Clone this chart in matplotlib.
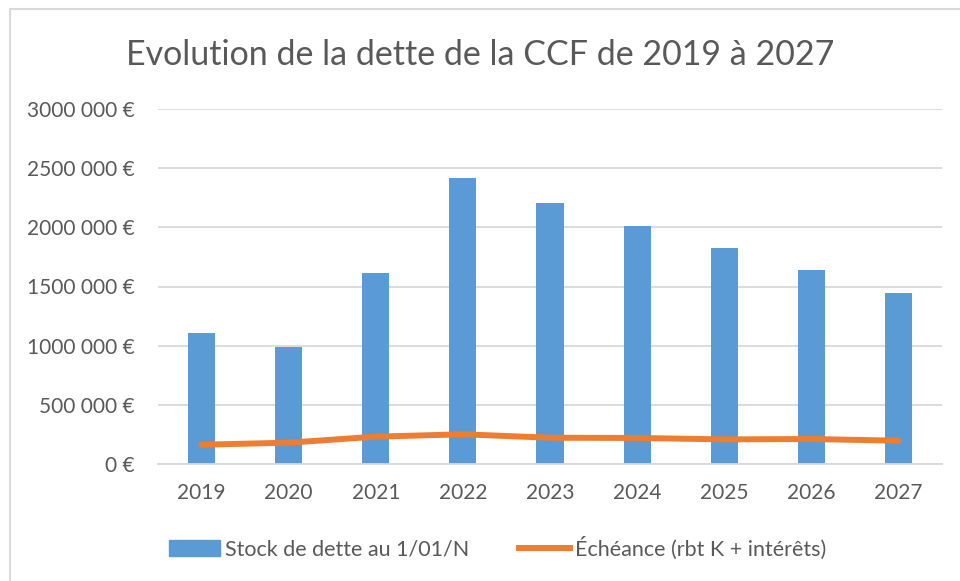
import matplotlib
matplotlib.use("Agg")
import matplotlib.pyplot as plt
from matplotlib.patches import Rectangle
from matplotlib.lines import Line2D
from matplotlib.patches import Patch
from matplotlib.ticker import FuncFormatter

years = ["2019", "2020", "2021", "2022", "2023", "2024", "2025", "2026", "2027"]
stock = [1110000, 990000, 1610000, 2415000, 2205000, 2011000, 1828000, 1642000, 1448000]
echeance = [163000, 180000, 231000, 251000, 222000, 220000, 208000, 211000, 197000]
yticks = [0, 500000, 1000000, 1500000, 2000000, 2500000, 3000000]

title = "Evolution de la dette de la CCF de 2019 à 2027"
label_stock = "Stock de dette au 1/01/N"
label_ech = "Échéance (rbt K + intérêts)"

BLUE = "#5B9BD5"
ORANGE = "#ED7D31"
GRID = "#D9D9D9"
TXT = "#595959"

plt.rcParams["font.family"] = ["Lato", "DejaVu Sans"]

fig = plt.figure(figsize=(9.6, 5.81), dpi=100)
fig.patch.set_facecolor("white")
fig.patches.append(Rectangle((10 / 960, -0.1), 1.2, 1.1 - 9 / 581,
                             transform=fig.transFigure, fill=False,
                             edgecolor=GRID, linewidth=1.5))

ax = fig.add_axes([158 / 960, 1 - 464 / 581, (942 - 158) / 960, (464 - 109) / 581])
x = list(range(len(years)))
ax.bar(x, stock, width=0.31, color=BLUE, zorder=2)
ax.plot(x, echeance, color=ORANGE, linewidth=4.3, solid_capstyle="round",
        solid_joinstyle="round", zorder=3)

ax.set_xlim(-0.5, len(years) - 0.5)
ax.set_ylim(0, 3000000)
ax.set_yticks(yticks)


def fmt(v, pos):
    v = int(round(v))
    if v == 0:
        return "0 €"
    thousands = v // 1000
    rest = v % 1000
    return f"{thousands} {rest:03d} €"


ax.yaxis.set_major_formatter(FuncFormatter(fmt))
ax.set_xticks(x)
ax.set_xticklabels(years)
ax.grid(axis="y", color=GRID, linewidth=1.3, zorder=0)
ax.set_axisbelow(True)
for s in ["top", "right", "left"]:
    ax.spines[s].set_visible(False)
ax.spines["bottom"].set_color(GRID)
ax.spines["bottom"].set_linewidth(1.3)
ax.tick_params(axis="both", length=0, labelsize=15, colors=TXT)
ax.tick_params(axis="y", pad=16.5)
ax.tick_params(axis="x", pad=14)

fig.text(0.5, 1 - 55 / 581, title, ha="center", va="center", fontsize=24.5,
         color=TXT)

handles = [Patch(facecolor=BLUE, edgecolor=BLUE),
           Line2D([0], [0], color=ORANGE, linewidth=4.3)]
fig.legend(handles, [label_stock, label_ech], loc="center",
           bbox_to_anchor=(0.518, 1 - 548 / 581), ncol=2, frameon=False,
           fontsize=15.5, labelcolor=TXT, handlelength=2.4, handleheight=0.8,
           handletextpad=0.2, columnspacing=2.3)

fig.savefig("out.png", dpi=100, facecolor="white")
